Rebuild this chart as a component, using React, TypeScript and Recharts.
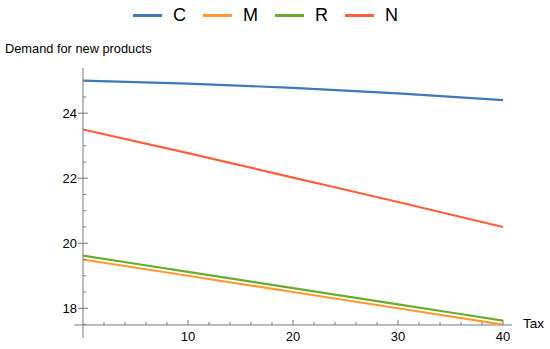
import { LineChart, Line, XAxis, YAxis, ReferenceLine } from "recharts";

const taxes = [0, 10, 20, 30, 40];
const demandC = [25, 24.91, 24.78, 24.61, 24.4];
const demandM = [19.5, 19.0, 18.5, 18.0, 17.5];
const demandR = [19.62, 19.12, 18.62, 18.12, 17.62];
const demandN = [23.5, 22.77, 22.02, 21.27, 20.5];

const xTicks = [2, 4, 6, 8, 10, 12, 14, 16, 18, 20, 22, 24, 26, 28, 30, 32, 34, 36, 38, 40];
const xMajor = [10, 20, 30, 40];
const yTicks = [17.5, 18, 18.5, 19, 19.5, 20, 20.5, 21, 21.5, 22, 22.5, 23, 23.5, 24, 24.5, 25];
const yMajor = [18, 20, 22, 24];

const series = [
  { key: "C", color: "#3d78b8" },
  { key: "M", color: "#ff9a2e" },
  { key: "R", color: "#6aaa2f" },
  { key: "N", color: "#ff5f3c" },
];

const chartData = taxes.map((tax, i) => ({
  tax,
  C: demandC[i],
  M: demandM[i],
  R: demandR[i],
  N: demandN[i],
}));

// axes cross at (0, 17.486) inside a slightly padded plot area
const X_AXIS_VALUE = 17.486;
const AXIS_X_PAD = 9;
const AXIS_Y_PAD = 13;
const axisColor = "#7a7a7a";
const font = "'Liberation Sans', Arial, sans-serif";

function YTick(props: any) {
  const { x, y, payload } = props;
  const ax = x + AXIS_X_PAD;
  const major = yMajor.includes(payload.value);
  return (
    <g>
      {major ? (
        <line x1={ax - 5} x2={ax + 5} y1={y} y2={y} stroke={axisColor} />
      ) : (
        <line x1={ax} x2={ax + 3} y1={y} y2={y} stroke={axisColor} />
      )}
      {major && (
        <text x={ax - 6} y={y + 4.5} textAnchor="end" fontSize={13} fill="#000" fontFamily={font}>
          {payload.value}
        </text>
      )}
    </g>
  );
}

function XTick(props: any) {
  const { x, y, payload } = props;
  const ay = y - AXIS_Y_PAD;
  const major = xMajor.includes(payload.value);
  return (
    <g>
      <line x1={x} x2={x} y1={ay} y2={ay - (major ? 5 : 3)} stroke={axisColor} />
      {major && (
        <text x={x} y={ay + 16} textAnchor="middle" fontSize={13} fill="#000" fontFamily={font}>
          {payload.value}
        </text>
      )}
    </g>
  );
}

export default function App() {
  return (
    <div style={{ position: "absolute", left: 0, top: 0, width: 550, height: 349, background: "#fff", fontFamily: font }}>
      <div style={{ position: "absolute", left: 133, top: 4, display: "flex", alignItems: "center", height: 22 }}>
        {series.map((s) => (
          <div key={s.key} style={{ display: "flex", alignItems: "center", marginRight: 17 }}>
            <span style={{ display: "inline-block", width: 29, height: 3, background: s.color, marginRight: 11 }} />
            <span style={{ fontSize: 18, color: "#000" }}>{s.key}</span>
          </div>
        ))}
      </div>
      <div style={{ position: "absolute", left: 5, top: 41, fontSize: 12.8, color: "#000" }}>Demand for new products</div>
      <div style={{ position: "absolute", left: 523, top: 316, fontSize: 13.5, color: "#000" }}>Tax</div>
      <LineChart width={550} height={349} data={chartData} margin={{ top: 68, right: 38, bottom: 0, left: 0 }}>
        <XAxis
          dataKey="tax"
          type="number"
          domain={[-0.857, 40.857]}
          ticks={xTicks}
          interval={0}
          axisLine={false}
          tickLine={false}
          tickSize={0}
          tickMargin={0}
          height={11}
          tick={<XTick />}
        />
        <YAxis
          type="number"
          domain={[17.086, 25.39]}
          ticks={yTicks}
          interval={0}
          axisLine={false}
          tickLine={false}
          tickSize={0}
          tickMargin={0}
          width={74}
          tick={<YTick />}
        />
        <ReferenceLine x={0} stroke={axisColor} strokeWidth={1} />
        <ReferenceLine y={X_AXIS_VALUE} stroke={axisColor} strokeWidth={1} />
        {series.map((s) => (
          <Line
            key={s.key}
            type="monotone"
            dataKey={s.key}
            stroke={s.color}
            strokeWidth={2.2}
            dot={false}
            isAnimationActive={false}
          />
        ))}
      </LineChart>
    </div>
  );
}
